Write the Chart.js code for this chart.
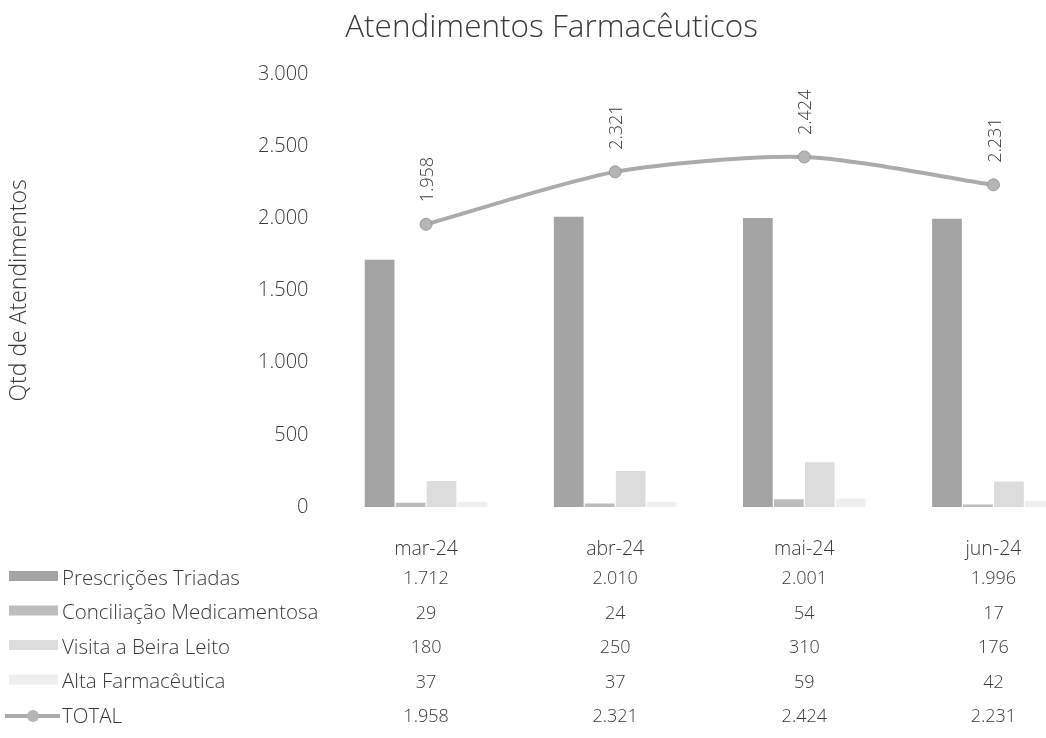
<!DOCTYPE html>
<html><head><meta charset="utf-8">
<script src="https://cdn.jsdelivr.net/npm/chart.js@4.4.1/dist/chart.umd.min.js"></script>
<style>html,body{margin:0;padding:0;overflow:hidden;background:#fff;width:1046px;height:738px}canvas{display:block}</style>
</head><body>
<canvas id="c" width="1102" height="738"></canvas>
<script>
const categories = ['mar-24', 'abr-24', 'mai-24', 'jun-24'];
const prescricoes = [1712, 2010, 2001, 1996];
const conciliacao = [29, 24, 54, 17];
const visita = [180, 250, 310, 176];
const alta = [37, 37, 59, 42];
const total = [1958, 2321, 2424, 2231];
const seriesNames = ['Prescrições Triadas', 'Conciliação Medicamentosa', 'Visita a Beira Leito', 'Alta Farmacêutica', 'TOTAL'];
const yMax = 3000;
const yStep = 500;

const FONT = "'Open Sans', 'DejaVu Sans', sans-serif";
const TXT = '#3a3a3a';
const barColors = ['#a4a4a4', '#bdbdbd', '#dcdcdc', '#efefef'];
const lineColor = '#ababab';

function fmt(v) { return String(v).replace(/\B(?=(\d{3})+(?!\d))/g, '.'); }

const tablePlugin = {
  id: 'tablePlugin',
  afterDraw(chart) {
    const ctx = chart.ctx;
    const xs = chart.scales.x;
    const base = chart.chartArea.bottom;
    ctx.save();
    // line data labels (rotated)
    const meta = chart.getDatasetMeta(4);
    ctx.font = '300 18px ' + FONT;
    ctx.fillStyle = TXT;
    ctx.textAlign = 'left';
    ctx.textBaseline = 'middle';
    meta.data.forEach((pt, i) => {
      ctx.save();
      ctx.translate(pt.x + 2, pt.y - 22);
      ctx.rotate(-Math.PI / 2);
      ctx.fillText(fmt(total[i]), 0, 0);
      ctx.restore();
    });
    // data table header
    ctx.textAlign = 'center';
    ctx.font = '300 19.5px ' + FONT;
    const headerY = base + 42;
    categories.forEach((c, i) => ctx.fillText(c, xs.getPixelForValue(i), headerY));
    const rows = [prescricoes, conciliacao, visita, alta, total];
    rows.forEach((arr, r) => {
      const y = base + 72 + r * 34.5;
      ctx.textAlign = 'center';
      ctx.fillStyle = TXT;
      ctx.font = '300 18px ' + FONT;
      arr.forEach((v, i) => ctx.fillText(fmt(v), xs.getPixelForValue(i), y));
      // legend key
      if (r < 4) {
        ctx.fillStyle = barColors[r];
        ctx.fillRect(9, y - 8, 49, 10);
      } else {
        ctx.strokeStyle = lineColor;
        ctx.lineWidth = 4;
        ctx.beginPath(); ctx.moveTo(5, y - 1); ctx.lineTo(60, y - 1); ctx.stroke();
        ctx.fillStyle = '#b5b5b5';
        ctx.beginPath(); ctx.arc(33, y - 1, 6, 0, Math.PI * 2); ctx.fill();
      }
      ctx.fillStyle = TXT;
      ctx.textAlign = 'left';
      ctx.font = '300 20.5px ' + FONT;
      ctx.fillText(seriesNames[r], 62, y);
    });
    ctx.restore();
  }
};

new Chart(document.getElementById('c'), {
  type: 'bar',
  data: {
    labels: categories,
    datasets: [
      { label: seriesNames[0], data: prescricoes, backgroundColor: barColors[0], order: 1 },
      { label: seriesNames[1], data: conciliacao, backgroundColor: barColors[1], order: 1 },
      { label: seriesNames[2], data: visita, backgroundColor: barColors[2], order: 1 },
      { label: seriesNames[3], data: alta, backgroundColor: barColors[3], order: 1 },
      { label: seriesNames[4], data: total, type: 'line', order: 0,
        borderColor: lineColor, borderWidth: 4, tension: 0.25,
        pointRadius: 6, pointBackgroundColor: '#b5b5b5', pointBorderColor: '#9a9a9a', pointBorderWidth: 1 }
    ]
  },
  options: {
    responsive: false,
    animation: false,
    categoryPercentage: 0.655,
    barPercentage: 0.96,
    layout: { padding: { left: 15, right: 14, top: 0, bottom: 231 } },
    plugins: {
      legend: { display: false },
      tooltip: { enabled: false },
      title: { display: true, text: 'Atendimentos Farmacêuticos', color: TXT,
        font: { family: FONT, size: 31.5, weight: '300' }, padding: { top: 9, bottom: 27 } }
    },
    scales: {
      x: { display: false },
      y: {
        min: 0, max: yMax,
        ticks: { stepSize: yStep, padding: 15, color: TXT, font: { family: FONT, size: 20, weight: '300' }, callback: v => fmt(v) },
        grid: { display: false },
        border: { display: false },
        title: { display: true, text: 'Qtd de Atendimentos', color: TXT, font: { family: FONT, size: 23, weight: '300' }, padding: { top: -9, bottom: 0 } },
        afterFit: s => { s.width = 316.5; }
      }
    }
  },
  plugins: [tablePlugin]
});
</script>
</body></html>
